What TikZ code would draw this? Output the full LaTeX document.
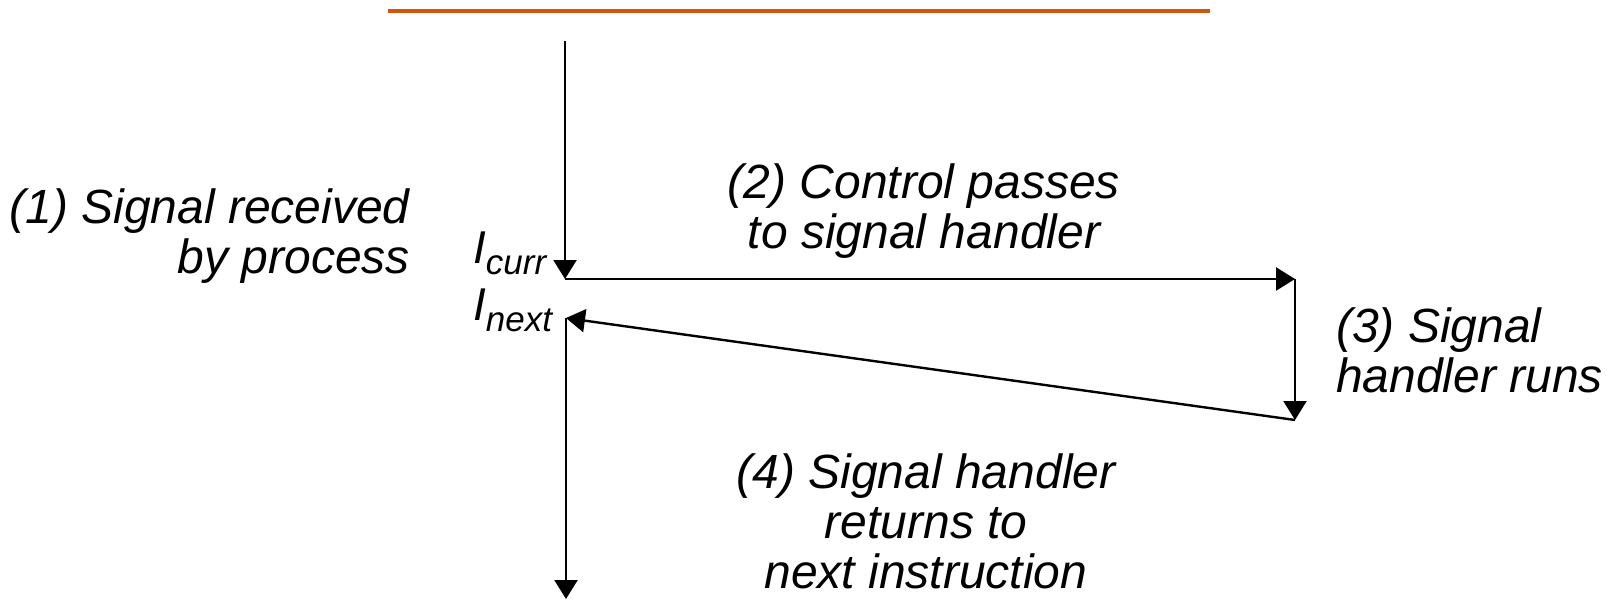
\documentclass[tikz,border=0pt]{standalone}
\usepackage{fontspec}
\setmainfont{Liberation Sans}
\usetikzlibrary{arrows.meta}
\definecolor{rule}{RGB}{208,86,12}
\tikzset{
  wire/.style={line width=2.4pt, -{Triangle[length=19pt,width=23pt]}},
  lbl/.style={inner sep=0pt, font=\fontsize{48}{50}\selectfont\itshape},
  ilbl/.style={inner sep=0pt, anchor=base west, font=\fontsize{46}{46}\selectfont\itshape},
}
\newcommand{\subtxt}[1]{\raisebox{-11pt}{\fontsize{35}{35}\selectfont #1}}
\begin{document}
\begin{tikzpicture}[x=1pt,y=-1pt]
\useasboundingbox (0,0) rectangle (1611,599);
\draw[rule, line width=3.5pt] (388,11) -- (1210,11);
\coordinate (top) at (565,41);
\coordinate (curr) at (565,279);
\coordinate (hr) at (1295,279);
\coordinate (hb) at (1295,420);
\coordinate (next) at (566,318);
\coordinate (bot) at (566,599);
\draw[wire] (top) -- (curr);
\draw[wire] (curr) -- (hr);
\draw[wire] (hr) -- (hb);
\draw[wire] (hb) -- (next);
\draw[wire] (next) -- (bot);
% base anchor of a multi-line node = baseline of its last line
\node[lbl, anchor=base east, align=right] (t1) at (410,273) {(1) Signal received\\by process};
\node[lbl, anchor=base, align=center] (t2) at (924,248) {(2) Control passes\\to signal handler};
\node[lbl, anchor=base west, align=left] (t3) at (1336,392) {(3) Signal\\handler runs};
\node[lbl, anchor=base, align=center] (t4) at (926,588) {(4) Signal handler\\returns to\\next instruction};
\node[ilbl] (ic) at (473,263) {I\subtxt{curr}};
\node[ilbl] (in) at (473,320) {I\subtxt{next}};
\end{tikzpicture}
\end{document}
